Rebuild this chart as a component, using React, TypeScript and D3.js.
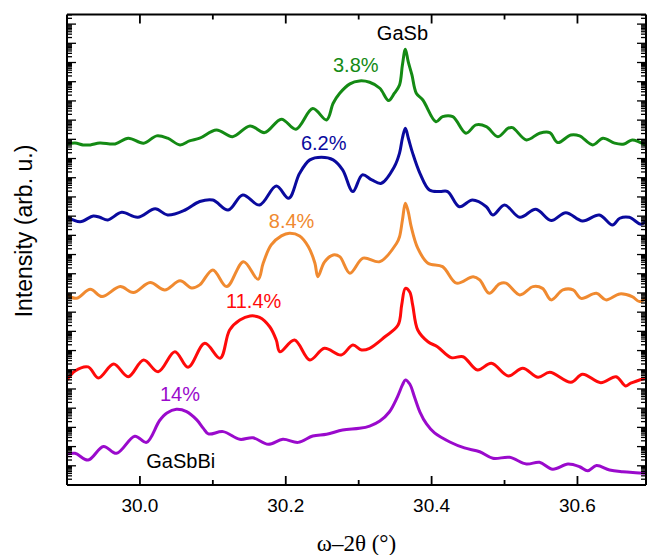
import React from 'react';
import * as d3 from 'd3';

// ---- Data (omega-2theta in degrees, log10 of intensity in arb. units) ----
const series38: [number, number][] = [
  [29.900,17.76],[29.911,17.81],[29.922,17.71],[29.932,17.71],[29.945,17.81],[29.966,17.76],[29.984,18.06],[30.005,17.80],
  [30.023,18.18],[30.038,18.06],[30.055,17.71],[30.068,17.92],[30.082,18.06],[30.105,18.49],[30.127,18.14],[30.151,18.70],
  [30.171,18.35],[30.194,19.05],[30.214,18.53],[30.237,19.60],[30.256,19.01],[30.265,19.88],[30.274,20.40],[30.288,20.89],
  [30.301,21.04],[30.315,20.97],[30.329,20.66],[30.341,20.02],[30.349,20.40],[30.356,20.83],[30.360,21.88],[30.364,22.69],
  [30.368,22.03],[30.373,21.35],[30.379,20.40],[30.388,20.05],[30.406,18.92],[30.415,19.18],[30.429,19.18],[30.447,18.32],
  [30.461,18.75],[30.475,18.66],[30.491,18.14],[30.505,18.58],[30.511,18.61],[30.530,17.97],[30.548,18.32],[30.562,18.35],
  [30.573,17.83],[30.591,18.23],[30.603,18.18],[30.621,17.71],[30.635,18.06],[30.651,17.80],[30.664,17.76],[30.675,17.97],
  [30.693,17.71],
];
const series62: [number, number][] = [
  [29.900,13.97],[29.918,13.71],[29.936,14.01],[29.945,13.94],[29.956,13.80],[29.975,14.20],[29.997,13.94],[30.021,14.38],
  [30.038,14.06],[30.062,14.32],[30.082,14.76],[30.100,14.84],[30.121,14.32],[30.141,15.10],[30.164,14.58],[30.187,15.57],
  [30.204,14.93],[30.219,16.23],[30.233,16.93],[30.249,17.07],[30.265,16.93],[30.278,16.41],[30.292,15.28],[30.305,16.15],
  [30.318,15.89],[30.331,15.71],[30.349,16.58],[30.356,17.28],[30.360,18.07],[30.364,18.58],[30.368,18.07],[30.374,17.28],
  [30.384,16.23],[30.397,15.36],[30.411,15.28],[30.422,15.28],[30.438,14.49],[30.456,14.84],[30.475,14.49],[30.484,14.06],
  [30.500,14.58],[30.521,13.94],[30.543,14.36],[30.564,13.77],[30.584,14.18],[30.607,13.75],[30.630,14.06],[30.648,13.54],
  [30.658,13.89],[30.671,13.94],[30.687,13.58],[30.693,13.71],
];
const series84: [number, number][] = [
  [29.900,9.90],[29.913,9.72],[29.932,10.19],[29.948,9.81],[29.973,10.33],[29.991,10.02],[30.014,10.54],[30.034,10.16],
  [30.055,10.63],[30.071,10.26],[30.082,10.42],[30.100,11.20],[30.119,10.33],[30.142,11.63],[30.162,10.71],[30.169,11.55],
  [30.180,12.50],[30.194,12.97],[30.205,13.11],[30.219,12.97],[30.231,12.41],[30.240,11.55],[30.244,10.85],[30.253,11.61],
  [30.265,11.98],[30.274,11.89],[30.288,11.03],[30.306,11.81],[30.329,11.63],[30.352,12.59],[30.356,12.93],[30.360,13.80],
  [30.364,14.67],[30.368,14.22],[30.372,13.45],[30.381,12.33],[30.395,11.55],[30.415,11.37],[30.434,10.51],[30.457,10.85],
  [30.466,10.68],[30.479,9.98],[30.493,10.47],[30.502,10.51],[30.521,9.90],[30.539,10.33],[30.552,10.24],[30.564,9.64],
  [30.580,10.16],[30.594,10.16],[30.605,9.72],[30.626,9.98],[30.639,9.64],[30.658,9.95],[30.675,9.81],[30.685,9.55],
  [30.693,9.72],
];
const series114: [number, number][] = [
  [29.900,5.47],[29.911,5.94],[29.929,6.15],[29.943,5.57],[29.964,6.30],[29.984,5.64],[30.005,6.51],[30.025,5.90],
  [30.048,6.94],[30.066,6.13],[30.089,7.38],[30.110,6.60],[30.123,8.07],[30.137,8.59],[30.151,8.80],[30.164,8.73],
  [30.178,8.24],[30.187,7.55],[30.192,6.94],[30.212,7.55],[30.233,6.51],[30.253,7.12],[30.276,6.77],[30.292,7.29],
  [30.304,7.03],[30.315,7.12],[30.336,7.72],[30.354,8.33],[30.359,9.38],[30.364,10.24],[30.370,10.05],[30.374,9.38],
  [30.381,8.07],[30.395,7.46],[30.408,7.20],[30.427,6.63],[30.443,6.68],[30.463,5.99],[30.482,6.34],[30.505,5.68],
  [30.525,6.08],[30.546,5.61],[30.562,5.87],[30.591,5.35],[30.607,5.77],[30.632,5.33],[30.653,5.64],[30.666,5.16],
  [30.673,5.30],[30.693,5.56],
];
const series14: [number, number][] = [
  [29.900,1.61],[29.911,1.65],[29.929,1.30],[29.950,2.01],[29.968,1.65],[29.993,2.54],[30.009,2.22],[30.027,3.36],
  [30.037,3.75],[30.050,3.94],[30.064,3.82],[30.078,3.39],[30.087,2.95],[30.094,2.66],[30.114,2.78],[30.137,2.38],
  [30.155,2.46],[30.176,2.12],[30.196,2.38],[30.217,2.22],[30.237,2.55],[30.256,2.64],[30.278,2.86],[30.301,2.95],
  [30.315,3.07],[30.329,3.33],[30.342,3.80],[30.353,4.58],[30.360,5.21],[30.364,5.47],[30.370,5.26],[30.377,4.53],
  [30.384,3.80],[30.393,3.18],[30.404,2.71],[30.425,2.24],[30.445,1.93],[30.466,1.73],[30.484,1.39],[30.507,1.44],
  [30.530,1.09],[30.548,1.18],[30.566,0.82],[30.587,1.09],[30.603,0.95],[30.614,0.74],[30.626,1.01],[30.644,0.78],
  [30.662,0.69],[30.680,0.64],[30.693,0.61],
];

const seriesNames = ['3.8%', '6.2%', '8.4%', '11.4%', '14%'];
const seriesColors = ['#148a14', '#0a0a9e', '#f08a30', '#ff0a0a', '#9a0acc'];
const seriesData = [series38, series62, series84, series114, series14];
// label anchor positions (theta, log10 I)
const labelTheta = [30.296, 30.252, 30.208, 30.156, 30.055];
const labelLogI = [21.51, 17.45, 13.39, 9.22, 4.39];

const xMajorTicks = [30.0, 30.2, 30.4, 30.6];
const xMinorTicks = [30.1, 30.3, 30.5];

const xDomain: [number, number] = [29.9, 30.694];
const yDomainLog: [number, number] = [0, 24.5];

export default function App() {
  const W = 647, H = 555;
  const left = 67, right = 646, top = 14.5, bottom = 485;
  const x = d3.scaleLinear().domain(xDomain).range([left, right]);
  const y = d3.scaleLog().domain([10 ** yDomainLog[0], 10 ** yDomainLog[1]]).range([bottom, top]);

  const line = d3.line<[number, number]>()
    .x(d => x(d[0]))
    .y(d => y(10 ** d[1]))
    .curve(d3.curveCatmullRom.alpha(0.5));

  const yTicks: { v: number; major: boolean }[] = [];
  for (let k = 0; k <= 24; k++) {
    for (let m = 1; m <= 9; m++) {
      const v = m * 10 ** k;
      if (Math.log10(v) <= yDomainLog[1]) yTicks.push({ v, major: m === 1 });
    }
  }

  const sans = 'Liberation Sans, Arial, sans-serif';
  const axisW = 2;

  return (
    <svg width={W} height={H} style={{ position: 'absolute', left: 0, top: 0, background: '#fff' }}>
      <defs>
        <clipPath id="plotclip">
          <rect x={left} y={top} width={right - left} height={bottom - top} />
        </clipPath>
      </defs>
      <rect x={0} y={0} width={W} height={H} fill="#fff" />
      <g clipPath="url(#plotclip)">
        {seriesData.map((d, i) => (
          <path key={i} d={line(d) || ''} fill="none" stroke={seriesColors[i]} strokeWidth={3} strokeLinejoin="round" strokeLinecap="round" />
        ))}
      </g>
      {/* frame */}
      <g stroke="#000" strokeWidth={axisW} fill="none">
        <line x1={left} x2={right} y1={bottom} y2={bottom} />
        <line x1={left} x2={right} y1={top} y2={top} />
        <line x1={left} x2={left} y1={top} y2={bottom} />
        <line x1={right} x2={right} y1={top} y2={bottom} />
      </g>
      {/* y ticks */}
      <g stroke="#000" strokeWidth={1.3}>
        {yTicks.map((t, i) => (
          <g key={i}>
            <line x1={left} x2={left + (t.major ? 9 : 5)} y1={y(t.v)} y2={y(t.v)} />
            <line x1={right} x2={right - (t.major ? 9 : 5)} y1={y(t.v)} y2={y(t.v)} />
          </g>
        ))}
      </g>
      {/* x ticks */}
      <g stroke="#000" strokeWidth={1.8}>
        {xMajorTicks.map((t, i) => (
          <g key={i}>
            <line x1={x(t)} x2={x(t)} y1={bottom} y2={bottom - 9} />
            <line x1={x(t)} x2={x(t)} y1={top} y2={top + 9} />
          </g>
        ))}
        {xMinorTicks.map((t, i) => (
          <g key={i}>
            <line x1={x(t)} x2={x(t)} y1={bottom} y2={bottom - 5} />
            <line x1={x(t)} x2={x(t)} y1={top} y2={top + 5} />
          </g>
        ))}
      </g>
      <g fontFamily={sans} fontSize={19} textAnchor="middle" fill="#000">
        {xMajorTicks.map((t, i) => (
          <text key={i} x={x(t)} y={512}>{t.toFixed(1)}</text>
        ))}
      </g>
      {/* series labels */}
      <g fontFamily={sans} fontSize={20} textAnchor="middle">
        {seriesNames.map((n, i) => (
          <text key={i} x={x(labelTheta[i])} y={y(10 ** labelLogI[i])} fill={seriesColors[i]}>{n}</text>
        ))}
        <text x={x(30.360)} y={y(10 ** 23.18)} fill="#000">GaSb</text>
        <text x={x(30.056)} y={y(10 ** 0.885)} fill="#000">GaSbBi</text>
      </g>
      {/* axis titles */}
      <text transform={`translate(32,231) rotate(-90)`} textAnchor="middle" fontFamily={sans} fontSize={23} fill="#000">Intensity (arb. u.)</text>
      <text x={(left + right) / 2} y={551} textAnchor="middle" fontFamily="Liberation Serif, Times New Roman, serif" fontSize={23} fill="#000">ω–2θ (°)</text>
    </svg>
  );
}
